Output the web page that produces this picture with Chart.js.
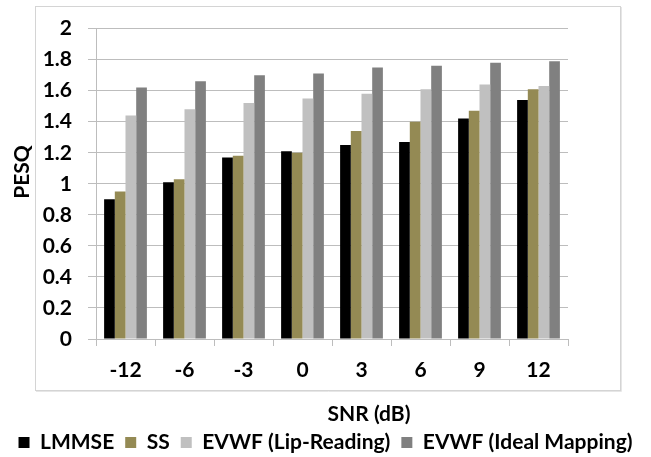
<!DOCTYPE html>
<html>
<head>
<meta charset="utf-8">
<script src="https://cdn.jsdelivr.net/npm/chart.js@4/dist/chart.umd.min.js"></script>
<style>
  html, body { margin: 0; padding: 0; background: #fff; }
  #wrap { width: 651px; height: 457px; position: relative; }
</style>
</head>
<body>
<div id="wrap"><canvas id="c" width="651" height="457"></canvas></div>
<script>
// SNR conditions on the x axis
const snrLabels = ['-12', '-6', '-3', '0', '3', '6', '9', '12'];

// PESQ scores per method
const lmmse      = [0.90, 1.01, 1.17, 1.21, 1.25, 1.27, 1.42, 1.54];
const ss         = [0.95, 1.03, 1.18, 1.20, 1.34, 1.40, 1.47, 1.61];
const evwfLip    = [1.44, 1.48, 1.52, 1.55, 1.58, 1.61, 1.64, 1.63];
const evwfIdeal  = [1.62, 1.66, 1.70, 1.71, 1.75, 1.76, 1.78, 1.79];

const seriesNames = ['LMMSE', 'SS', 'EVWF (Lip-Reading)', 'EVWF (Ideal Mapping)'];
const yTickLabels = ['0', '0.2', '0.4', '0.6', '0.8', '1', '1.2', '1.4', '1.6', '1.8', '2'];
const xTitle = 'SNR (dB)';
const yTitle = 'PESQ';

const FONT = 'Lato, "Open Sans", sans-serif';
const gridColor = '#bdbdbd';

// frame around the plot + axis titles
const decor = {
  id: 'decor',
  afterInit(chart) {
    // keep the legend strip compact so it sits near the bottom edge
    const lg = chart.legend;
    const fit = lg.fit.bind(lg);
    lg.fit = function () { fit(); this.height = 36; };
  },
  beforeDraw(chart) {
    const ctx = chart.ctx;
    ctx.save();
    ctx.strokeStyle = '#e6e6e6';
    ctx.lineWidth = 1;
    ctx.beginPath();
    ctx.moveTo(621.5, 7); ctx.lineTo(621.5, 391.5); ctx.lineTo(36, 391.5);
    ctx.stroke();
    ctx.strokeStyle = '#d4d4d4';
    ctx.strokeRect(35.5, 6.5, 585, 384);
    ctx.restore();
  },
  afterDraw(chart) {
    const ctx = chart.ctx;
    ctx.save();
    ctx.fillStyle = '#000';
    ctx.font = 'bold 21px ' + FONT;
    ctx.textAlign = 'center';
    ctx.textBaseline = 'middle';
    ctx.fillText(xTitle, 369, 414);
    ctx.translate(22, 172);
    ctx.rotate(-Math.PI / 2);
    ctx.fillText(yTitle, 0, 0);
    ctx.restore();
  }
};

new Chart(document.getElementById('c'), {
  type: 'bar',
  data: {
    labels: snrLabels,
    datasets: [
      { label: seriesNames[0], data: lmmse,     backgroundColor: '#000000' },
      { label: seriesNames[1], data: ss,        backgroundColor: '#948A54' },
      { label: seriesNames[2], data: evwfLip,   backgroundColor: '#C0C0C0' },
      { label: seriesNames[3], data: evwfIdeal, backgroundColor: '#808080' }
    ]
  },
  options: {
    responsive: false,
    animation: false,
    devicePixelRatio: 1,
    layout: { padding: { top: 24, left: 0, right: 0, bottom: 0 } },
    datasets: { bar: { categoryPercentage: 0.725, barPercentage: 1.0, borderWidth: 0 } },
    plugins: {
      legend: {
        position: 'bottom',
        labels: {
          color: '#000',
          font: { family: FONT, size: 21, weight: 'bold' },
          boxWidth: 11,
          boxHeight: 11,
          padding: 11
        }
      },
      tooltip: { enabled: false },
      title: { display: false }
    },
    scales: {
      x: {
        grid: { display: true, drawOnChartArea: false, drawTicks: true, tickLength: 7, color: gridColor, offset: true },
        border: { display: true, color: gridColor },
        ticks: { color: '#000', font: { family: FONT, size: 21, weight: 'bold' }, padding: 12, maxRotation: 0 },
        afterFit(scale) { scale.height = 82; }
      },
      y: {
        min: 0, max: 2,
        ticks: {
          stepSize: 0.2,
          color: '#000',
          font: { family: FONT, size: 21, weight: 'bold' },
          padding: 16,
          callback: (v, i) => yTickLabels[i]
        },
        grid: { color: gridColor, tickLength: 8 },
        border: { display: true, color: gridColor },
        afterFit(scale) { scale.width = 96; }
      },
      yRight: {
        type: 'linear',
        position: 'right',
        display: true,
        grid: { display: false },
        border: { display: false },
        ticks: { display: false },
        afterFit(scale) { scale.width = 83; }
      }
    }
  },
  plugins: [decor]
});
</script>
</body>
</html>
